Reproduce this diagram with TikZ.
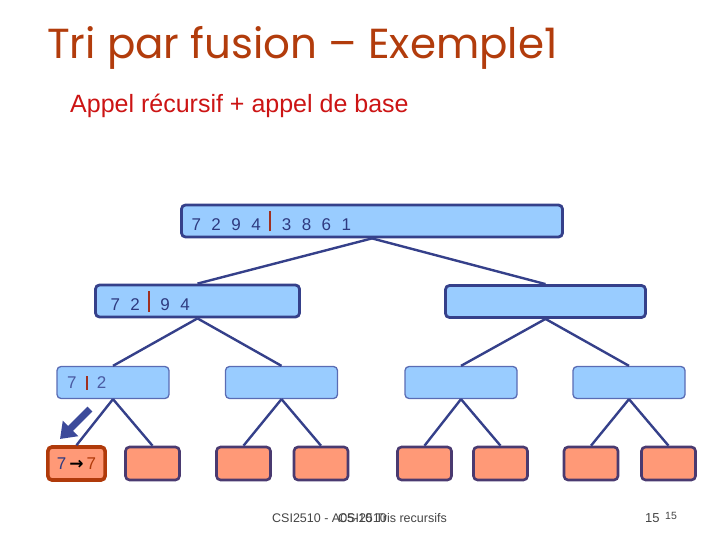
\documentclass[tikz,border=0pt]{standalone}
\usepackage{fontspec}
\setmainfont{Liberation Sans}
\newfontfamily\titlefont{Poppins}
\newfontfamily\arrowfont{DejaVu Sans}
\usepackage{tikz}
\usetikzlibrary{arrows.meta,positioning}
\usepackage{xcolor}
\definecolor{titlered}{HTML}{B23C0C}
\definecolor{subred}{HTML}{CC1414}
\definecolor{sky}{HTML}{99CCFF}
\definecolor{navy}{HTML}{35408A}
\definecolor{softnavy}{HTML}{5A6CB4}
\definecolor{digit}{HTML}{2E3A80}
\definecolor{softdigit}{HTML}{4A5AA2}
\definecolor{salmon}{HTML}{FF9977}
\definecolor{plum}{HTML}{4A3A70}
\definecolor{hotred}{HTML}{B03A0A}
\definecolor{cutred}{HTML}{A03020}
\definecolor{pointer}{HTML}{3C4A9A}
\definecolor{footgray}{HTML}{444444}
\newcommand{\gp}{\hspace{10.5pt}}
\newcommand{\cut}[2]{\textcolor{cutred}{\rule[-1.3pt]{#1}{#2}}}
\tikzset{
  >=Latex,
  every node/.style={text=digit,font=\fontsize{17}{20}\selectfont},
  bigbox/.style={draw=navy,line width=2.8pt,rounded corners=4pt,fill=sky,minimum height=32pt,inner xsep=10pt,align=left},
  midbox/.style={draw=softnavy,line width=1.3pt,rounded corners=4pt,fill=sky,minimum height=32pt,minimum width=112pt,inner xsep=10pt,align=left,text=softdigit},
  leafbox/.style={draw=plum,line width=2.6pt,rounded corners=4pt,fill=salmon,minimum height=33pt,minimum width=54pt,inner xsep=9pt},
  hotbox/.style={leafbox,draw=hotred,line width=3.6pt},
  link/.style={draw=navy,line width=2.4pt},
  footer/.style={text=footgray,font=\fontsize{12.5}{14}\selectfont,anchor=base west,inner sep=0pt},
}
\begin{document}
\begin{tikzpicture}[x=1pt,y=-1pt]
\useasboundingbox (0,0) rectangle (720,540);
\node[anchor=base west,inner sep=0pt,text=titlered,font=\titlefont\fontsize{42}{48}\selectfont] (title) at (47,59) {Tri par fusion – Exemple1};
\node[anchor=base west,inner sep=0pt,text=subred,font=\fontsize{25}{30}\selectfont] (sub) at (70,113) {Appel récursif + appel de base};
% level 1 and 2
\node[bigbox,text width=361pt] (root) at (372,221) {7\gp2\gp9\gp4\hspace{8pt}\cut{2pt}{21pt}\hspace{11pt}3\gp8\gp6\gp1};
\node[bigbox,text width=174pt,inner xsep=15pt] (l) at (197.5,301) {7\gp2\hspace{8.5pt}\cut{2pt}{21pt}\hspace{10pt}9\gp4};
\node[bigbox,text width=180pt] (r) at (545.5,301.5) {};
% level 3
\node[midbox,text width=92pt] (ll) at (113,382.5) {7\hspace{10pt}\cut{1.5pt}{14pt}\hspace{9pt}2};
\node[midbox] (lr) at (281.5,382.5) {};
\node[midbox] (rl) at (461,382.5) {};
\node[midbox] (rr) at (629,382.5) {};
% leaves
\node[hotbox] (lll) at (76.5,463.5) {7\hspace{3pt}{\arrowfont\bfseries\textcolor{black}{→}}\hspace{3pt}\textcolor{hotred}{7}};
\node[leafbox] (llr) at (152.5,463.5) {};
\node[leafbox] (lrl) at (243.5,463.5) {};
\node[leafbox] (lrr) at (321,463.5) {};
\node[leafbox] (rll) at (424.5,463.5) {};
\node[leafbox] (rlr) at (500.5,463.5) {};
\node[leafbox] (rrl) at (591,463.5) {};
\node[leafbox] (rrr) at (668.5,463.5) {};
\draw[link] (root.south) -- (l.north);
\draw[link] (root.south) -- (r.north);
\draw[link] (l.south) -- (ll.north);
\draw[link] (l.south) -- (lr.north);
\draw[link] (r.south) -- (rl.north);
\draw[link] (r.south) -- (rr.north);
\foreach \p in {ll,lr,rl,rr}{
  \draw[link] (\p.south) -- (\p l.north);
  \draw[link] (\p.south) -- (\p r.north);
}
% pointer to the base call
\coordinate (ptrtail) at (90,409);
\coordinate (ptrhead) at (60,439);
\draw[pointer,line width=7pt,-{Triangle[length=15pt,width=21pt]}] (ptrtail) -- (ptrhead);
% footer
\node[footer] (foot) at (272,522) {CSI2510 - A05-10 Tris recursifs};
\node[footer] (foot2) at (338,522) {CSI2510};
\node[footer,font=\fontsize{13}{14}\selectfont] (page) at (645,522) {15};
\node[footer,font=\fontsize{10.5}{12}\selectfont] (page2) at (665,519.5) {15};
\end{tikzpicture}
\end{document}
